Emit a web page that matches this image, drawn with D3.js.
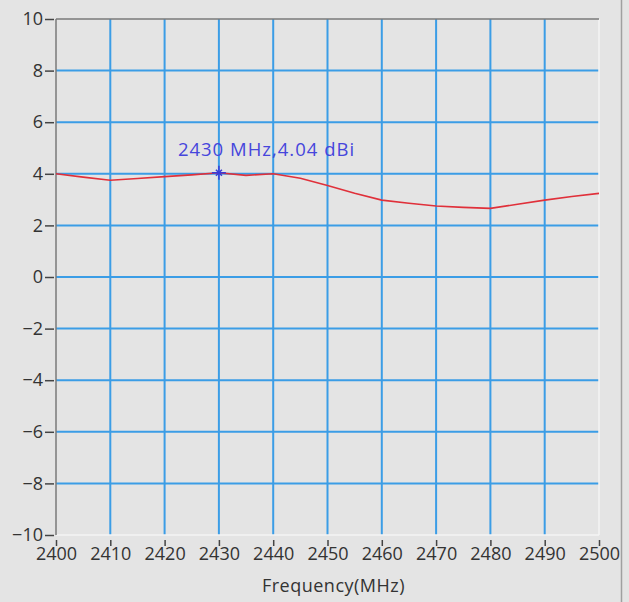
<!DOCTYPE html>
<html><head><meta charset="utf-8">
<script src="https://cdn.jsdelivr.net/npm/d3@7"></script>
<style>html,body{margin:0;padding:0;background:#e4e4e4;}svg{display:block;}</style>
</head><body>
<script>
const freqs = [2400,2405,2410,2415,2420,2425,2430,2435,2440,2445,2450,2455,2460,2465,2470,2475,2480,2485,2490,2495,2500];
const gains = [4.00,3.87,3.75,3.82,3.89,3.96,4.04,3.94,4.00,3.83,3.55,3.25,2.98,2.86,2.75,2.70,2.66,2.82,2.98,3.12,3.24];
const xTicks = [2400,2410,2420,2430,2440,2450,2460,2470,2480,2490,2500];
const yTicks = [-10,-8,-6,-4,-2,0,2,4,6,8,10];
const marker = {f:2430, g:4.04, label:"2430 MHz,4.04 dBi"};
const xTitle = "Frequency(MHz)";

const W=629,H=602;
const L=56,R=599,T=19,B=535;
const svg=d3.select("body").append("svg").attr("width",W).attr("height",H);
svg.append("rect").attr("width",W).attr("height",H).attr("fill","#e4e4e4");
svg.append("line").attr("x1",621.5).attr("x2",621.5).attr("y1",0).attr("y2",H).attr("stroke","#a0a0a0").attr("stroke-width",1.5);

const x=d3.scaleLinear().domain([2400,2500]).range([L,R]);
const y=d3.scaleLinear().domain([-10,10]).range([B,T]);
const font="'Open Sans','Noto Sans',sans-serif";

// grid
svg.append("g").selectAll("line").data(xTicks.slice(1,-1)).join("line")
 .attr("x1",d=>x(d)).attr("x2",d=>x(d)).attr("y1",T).attr("y2",B)
 .attr("stroke","#3b9de6").attr("stroke-width",2);
svg.append("g").selectAll("line").data(yTicks.slice(1,-1)).join("line")
 .attr("x1",L).attr("x2",R).attr("y1",d=>y(d)).attr("y2",d=>y(d))
 .attr("stroke","#3b9de6").attr("stroke-width",2);
// border
svg.append("line").attr("x1",L).attr("x2",R).attr("y1",B).attr("y2",B).attr("stroke","#f4f4f4").attr("stroke-width",1.5);
svg.append("line").attr("x1",R).attr("x2",R).attr("y1",T).attr("y2",B).attr("stroke","#f4f4f4").attr("stroke-width",1.5);
svg.append("line").attr("x1",L).attr("x2",R).attr("y1",T).attr("y2",T).attr("stroke","#7a7a7a").attr("stroke-width",1.5);
svg.append("line").attr("x1",L).attr("x2",L).attr("y1",T).attr("y2",B).attr("stroke","#7a7a7a").attr("stroke-width",1.5);

// axes
const yAxis=d3.axisLeft(y).tickValues(yTicks).tickSize(9).tickPadding(2).tickFormat(d3.format("d"));
const ya=svg.append("g").attr("transform",`translate(${L-2},0)`).call(yAxis);
ya.select(".domain").remove();
ya.selectAll("line").attr("stroke","#444").attr("stroke-width",1.5);
ya.selectAll("text").attr("font-family",font).attr("font-size",18).attr("fill","#333");

const xAxis=d3.axisBottom(x).tickValues(xTicks).tickSize(6).tickPadding(1).tickFormat(d3.format("d"));
const xa=svg.append("g").attr("transform",`translate(0,${B+5})`).call(xAxis);
xa.select(".domain").remove();
xa.selectAll("line").attr("stroke","#444").attr("stroke-width",1.5);
xa.selectAll("text").attr("font-family",font).attr("font-size",18).attr("fill","#333");

svg.append("text").attr("x",(L+R)/2+6).attr("y",592).attr("text-anchor","middle")
 .attr("font-family",font).attr("font-size",18).attr("letter-spacing",0.5).attr("fill","#333").text(xTitle);

// curve
const line=d3.line().x((d,i)=>x(freqs[i])).y(d=>y(d));
svg.append("path").datum(gains).attr("d",line).attr("fill","none").attr("stroke","#e0303a").attr("stroke-width",1.6);

// marker
const mx=x(marker.f), my=y(marker.g);
const mg=svg.append("g").attr("stroke","#3a3ad8").attr("stroke-width",1.5);
mg.append("line").attr("x1",mx-7).attr("x2",mx+7).attr("y1",my).attr("y2",my);
mg.append("line").attr("x1",mx).attr("x2",mx).attr("y1",my-7).attr("y2",my+7);
mg.append("line").attr("x1",mx-3).attr("x2",mx+3).attr("y1",my-3).attr("y2",my+3);
mg.append("line").attr("x1",mx-3).attr("x2",mx+3).attr("y1",my+3).attr("y2",my-3);
svg.append("text").attr("x",mx-41).attr("y",my-16.5).attr("font-family",font).attr("font-size",18.5)
 .attr("letter-spacing",1).attr("fill","#4646dc").text(marker.label);
</script>
</body></html>
